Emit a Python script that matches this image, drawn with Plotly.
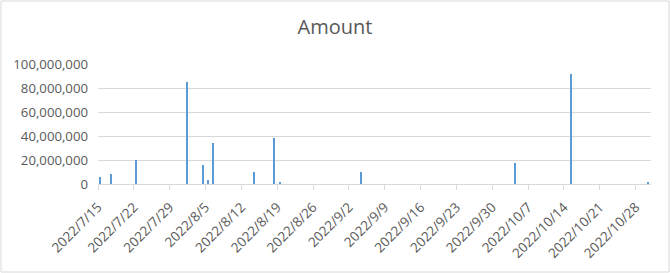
import plotly.graph_objects as go

dates = ["2022-07-15", "2022-07-17", "2022-07-22", "2022-08-01", "2022-08-04",
         "2022-08-05", "2022-08-06", "2022-08-14", "2022-08-18", "2022-08-19",
         "2022-09-04", "2022-10-04", "2022-10-15", "2022-10-30"]
amounts = [5.5e6, 8.6e6, 20.2e6, 85.2e6, 16.1e6,
           3.6e6, 34.4e6, 10.3e6, 38.6e6, 1.0e6,
           10.3e6, 17.8e6, 91.9e6, 1.0e6]

DAY = 86400000
W, H = 670, 273
L, R, T, B = 98, 19, 64, 89
pw, ph = W - L - R, H - T - B

fig = go.Figure(go.Bar(
    x=dates, y=amounts,
    xperiod=DAY, xperiodalignment="middle",
    width=0.28 * DAY,
    marker=dict(color="#5B9BD5", line=dict(width=0)),
))

grey = "#595959"
fig.update_layout(
    width=W, height=H,
    margin=dict(l=L, r=R, t=T, b=B),
    paper_bgcolor="white", plot_bgcolor="white",
    title=dict(text="Amount", x=0.5, xref="container", xanchor="center",
               y=1 - 27 / H, yref="container", yanchor="middle",
               font=dict(family="Open Sans", size=20, color=grey)),
    font=dict(family="Open Sans", size=12, color=grey),
    showlegend=False,
    bargap=0,
    xaxis=dict(
        type="date",
        range=["2022-07-15", "2022-10-31"],
        tick0="2022-07-15", dtick=7 * DAY,
        tickformat="%Y/%-m/%-d",
        tickangle=-45,
        ticks="outside", ticklen=5, tickcolor="#d9d9d9", tickwidth=1,
        ticklabelstandoff=4,
        showline=True, linecolor="#d9d9d9", linewidth=1,
        showgrid=False, zeroline=False,
        tickfont=dict(family="Open Sans", size=13.5, color=grey),
    ),
    yaxis=dict(
        range=[0, 100e6], dtick=20e6,
        tickformat=",d",
        showgrid=True, gridcolor="#d9d9d9", gridwidth=1,
        zeroline=False, showline=False, ticks="",
        ticklabelstandoff=9,
        tickfont=dict(family="Open Sans", size=13.2, color=grey),
    ),
    shapes=[dict(
        type="rect", xref="paper", yref="paper",
        x0=(1 - L) / pw, x1=(669 - L) / pw,
        y0=-(272 - (T + ph)) / ph, y1=((T + ph) - 1) / ph,
        line=dict(color="#d9d9d9", width=1), fillcolor="rgba(0,0,0,0)",
        layer="below",
    )],
)

fig.write_html("out.html")
